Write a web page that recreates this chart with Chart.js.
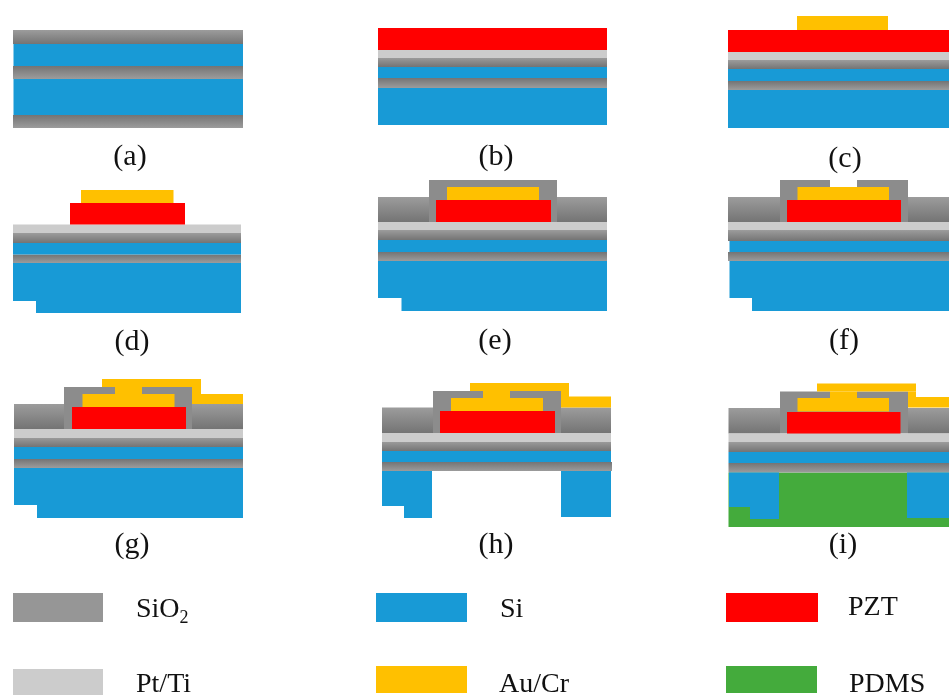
<!DOCTYPE html>
<html>
<head>
<meta charset="utf-8">
<title>Process flow</title>
<script src="https://cdn.jsdelivr.net/npm/chart.js@4"></script>
<style>
  html, body { margin: 0; padding: 0; background: #fff; }
  #flow { display: block; filter: blur(0.45px); }
</style>
</head>
<body>
<canvas id="flow" width="949" height="695"></canvas>
<script>
// Every layer is [xStart, xEnd, yTop, yBottom], in image units on the two linear axes

// SiO2 that fades light to dark going down
const sio2Upper = [
  [13, 243, 30, 44],
  [378, 607, 57.5, 67],
  [728, 949, 60, 69],
  [13, 241, 233, 243],
  [378, 607, 230, 240], [378, 429, 197, 222], [557, 607, 197, 222],
  [728, 949, 230, 241], [728, 780, 197, 222], [908, 949, 197, 222],
  [14, 243, 437.5, 447], [14, 64, 404, 429], [192, 243, 404, 429],
  [382, 611, 441.5, 451], [382, 433, 407.5, 433], [561, 611, 407.5, 433],
  [728.5, 949, 442, 452], [728.5, 780, 408, 433.5], [908, 949, 408, 433.5]
];
// SiO2 that fades dark to light going down
const sio2Lower = [
  [13, 243, 66, 79], [13, 243, 115, 128],
  [378, 607, 78, 88],
  [728, 949, 81, 90],
  [13, 241, 254.5, 263],
  [378, 607, 252, 261],
  [728, 949, 252, 261],
  [14, 243, 459, 468],
  [382, 612, 462, 471],
  [728.5, 949, 463, 472.5]
];
// SiO2 caps over the electrode
const sio2Caps = [
  [429, 557, 180, 222],
  [780, 908, 187, 222], [780, 830, 180, 187], [857, 908, 180, 187],
  [64, 192, 394, 429], [64, 115, 387, 394], [142, 192, 387, 394],
  [433, 561, 398, 433], [433, 483, 391, 398], [510, 561, 391, 398],
  [780, 908, 398, 433.5], [780, 830, 391.5, 398], [857, 908, 391.5, 398]
];
const siLayers = [
  [13.5, 243, 44, 66], [13.5, 243, 79, 115],
  [378, 607, 67, 78], [378, 607, 88, 125],
  [728, 949, 69, 81], [728, 949, 90, 128],
  [13, 241, 243, 254.5], [13, 241, 263, 301], [36, 241, 301, 313],
  [378, 607, 240, 252], [378, 607, 261, 298], [401.5, 607, 298, 311],
  [729.5, 949, 241, 252], [729.5, 949, 261, 298], [752, 949, 298, 311],
  [14, 243, 447, 459], [14, 243, 468, 505], [37, 243, 505, 518],
  [382, 611, 451, 462], [382, 432, 471, 506], [404, 432, 506, 518], [561, 611, 471, 517],
  [728.5, 949, 452, 463], [729, 779, 472.5, 507], [750, 779, 507, 519], [907, 949, 472.5, 518]
];
const ptTiLayers = [
  [378, 607, 50, 57.5],
  [728, 949, 52, 60],
  [13, 241, 224.5, 233],
  [378, 607, 222, 230],
  [728, 949, 222, 230],
  [14, 243, 429, 437.5],
  [382, 611, 433, 441.5],
  [728.5, 949, 433.5, 442]
];
const pztLayers = [
  [378, 607, 28, 50],
  [728, 949, 30, 52],
  [70, 185, 203, 224.5],
  [436, 551, 200, 222],
  [787, 901, 200, 222],
  [72, 186, 407, 429],
  [440, 555, 411, 433],
  [787, 900.5, 412, 433.5]
];
const auCrLayers = [
  [797, 888, 16, 30],
  [81, 173.5, 190, 203],
  [447, 539, 187, 200],
  [797.5, 889, 187, 200],
  [102, 201, 379, 387], [115, 142, 387, 394], [82.5, 174.5, 394, 407], [192, 201, 387, 394], [192, 243, 394, 404],
  [470, 569, 383, 391], [483, 510, 391, 398], [451, 543, 398, 411], [561, 569, 391, 397], [561, 611, 396.5, 407.5],
  [817, 916, 383.5, 391.5], [830, 857, 391.5, 398], [797.5, 889, 398, 411.5], [908, 916, 391.5, 397], [908, 949, 397, 407.5]
];
const pdmsLayers = [
  [728.5, 949, 472.5, 527]
];

const panelLabels = ['(a)', '(b)', '(c)', '(d)', '(e)', '(f)', '(g)', '(h)', '(i)'];
const panelLabelX = [130, 496, 845, 132, 495, 844, 132, 496, 843];
const panelLabelY = [165, 165, 167, 350, 349, 349, 553, 553, 553];

const legendLabels = ['SiO', 'Si', 'PZT', 'Pt/Ti', 'Au/Cr', 'PDMS'];
const legendLabelX = [136, 500, 848, 136, 499, 849];
const legendLabelY = [617, 617, 615, 692, 692, 692];
const legendSwatches = [
  [13, 103, 593, 622],
  [376, 467, 593, 622],
  [726, 818, 593, 622],
  [13, 103, 669, 695],
  [376, 467, 666, 693],
  [726, 817, 666, 693]
];

const GREY = '#969696';
const BLUE = '#189ad6';
const RED = '#ff0000';
const LIGHT = '#cccccc';
const GOLD = '#ffc000';
const GREEN = '#44ab3c';
const SWATCH_COLORS = [GREY, BLUE, RED, LIGHT, GOLD, GREEN];

function fade(top, bottom, band) {
  return (context) => {
    const y = context.chart.scales.y;
    const py0 = y ? y.getPixelForValue(band[2]) : NaN;
    const py1 = y ? y.getPixelForValue(band[3]) : NaN;
    // scales have no size yet on the first resolve
    if (!isFinite(py0) || !isFinite(py1)) return GREY;
    const g = context.chart.ctx.createLinearGradient(0, py0, 0, py1);
    g.addColorStop(0, top);
    g.addColorStop(1, bottom);
    return g;
  };
}

function bandDataset(band, color) {
  const [x0, x1, y0, y1] = band;
  return {
    data: [{ x: x0, y: y0 }, { x: x1, y: y0 }, { x: x1, y: y1 }, { x: x0, y: y1 }, { x: x0, y: y0 }],
    backgroundColor: color,
    borderWidth: 0,
    pointRadius: 0,
    showLine: true,
    fill: 'shape',
    clip: false
  };
}

// Later materials sit on top; Chart.js paints the first dataset last, so the list gets reversed
const datasets = [
  ...pdmsLayers.map(b => bandDataset(b, GREEN)),
  ...sio2Upper.map(b => bandDataset(b, fade('#9c9c9c', '#747474', b))),
  ...sio2Lower.map(b => bandDataset(b, fade('#747474', '#9c9c9c', b))),
  ...sio2Caps.map(b => bandDataset(b, '#8c8c8c')),
  ...siLayers.map(b => bandDataset(b, BLUE)),
  ...ptTiLayers.map(b => bandDataset(b, LIGHT)),
  ...pztLayers.map(b => bandDataset(b, RED)),
  ...auCrLayers.map(b => bandDataset(b, GOLD)),
  ...legendSwatches.map((b, i) => bandDataset(b, SWATCH_COLORS[i]))
].reverse();

const textPlugin = {
  id: 'diagramText',
  afterDatasetsDraw(chart) {
    const { ctx, scales: { x, y } } = chart;
    ctx.save();
    ctx.fillStyle = '#111111';
    ctx.textBaseline = 'alphabetic';

    ctx.font = '30px "Liberation Serif"';
    ctx.textAlign = 'center';
    panelLabels.forEach((t, i) => {
      ctx.fillText(t, x.getPixelForValue(panelLabelX[i]), y.getPixelForValue(panelLabelY[i]));
    });

    ctx.font = '28px "Liberation Serif"';
    ctx.textAlign = 'left';
    legendLabels.forEach((t, i) => {
      const px = x.getPixelForValue(legendLabelX[i]);
      const py = y.getPixelForValue(legendLabelY[i]);
      ctx.fillText(t, px, py);
      if (t === 'SiO') {
        // subscript of SiO2
        const w = ctx.measureText(t).width;
        ctx.font = '18px "Liberation Serif"';
        ctx.fillText('2', px + w, py + 6);
        ctx.font = '28px "Liberation Serif"';
      }
    });
    ctx.restore();
  }
};

new Chart(document.getElementById('flow'), {
  type: 'scatter',
  data: { datasets },
  plugins: [textPlugin],
  options: {
    responsive: false,
    devicePixelRatio: 1,
    animation: false,
    layout: { padding: 0 },
    scales: {
      x: { type: 'linear', min: 0, max: 949, display: false },
      y: { type: 'linear', min: 0, max: 695, reverse: true, display: false }
    },
    plugins: { legend: { display: false }, tooltip: { enabled: false } }
  }
});
</script>
</body>
</html>
